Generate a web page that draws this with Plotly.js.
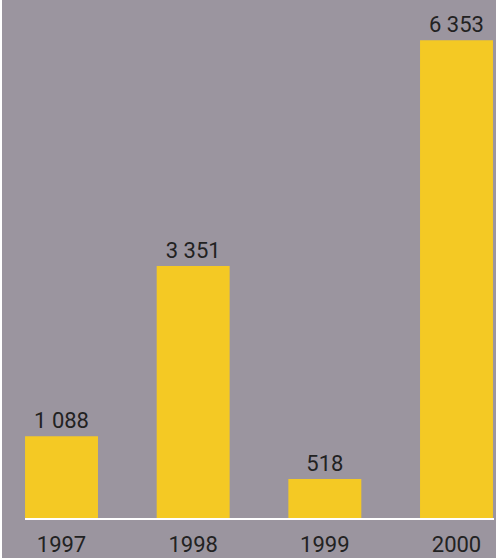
<!DOCTYPE html>
<html><head><meta charset="utf-8">
<script src="https://cdn.plot.ly/plotly-3.0.1.min.js"></script>
<style>html,body{margin:0;padding:0;background:#fff;}#c{position:absolute;left:2px;top:0;width:494px;height:558px;}</style>
</head><body><div id="c"></div>
<script>
const years = ['1997','1998','1999','2000'];
const values = [1088, 3351, 518, 6353];
const labels = ['1 088','3 351','518','6 353'];

const trace = {
  type:'bar', x: years, y: values, text: labels,
  textposition:'outside', cliponaxis:false,
  textfont:{family:'Roboto', size:22, color:'#222'},
  marker:{color:'#f4c924', line:{width:0}},
  hoverinfo:'none'
};
const layout = {
  width:494, height:558,
  margin:{l:0, r:0, t:0, b:40},
  paper_bgcolor:'#9b959f', plot_bgcolor:'#9b959f',
  showlegend:false, bargap:0.446,
  xaxis:{type:'category', range:[-0.452, 3.300], showgrid:false, zeroline:false, showline:false,
    ticks:'', tickfont:{family:'Roboto', size:22, color:'#222'}, ticklabelstandoff:11},
  yaxis:{range:[0, 6887], visible:false, showgrid:false, zeroline:false},
  shapes:[{type:'line', xref:'paper', yref:'paper', x0:0.0466, x1:0.996,
    ysizemode:'pixel', yanchor:0, y0:-1, y1:-1, line:{color:'#ffffff', width:2}, layer:'above'}]
};
Plotly.newPlot('c',[trace],layout,{staticPlot:true, displayModeBar:false});
</script></body></html>
